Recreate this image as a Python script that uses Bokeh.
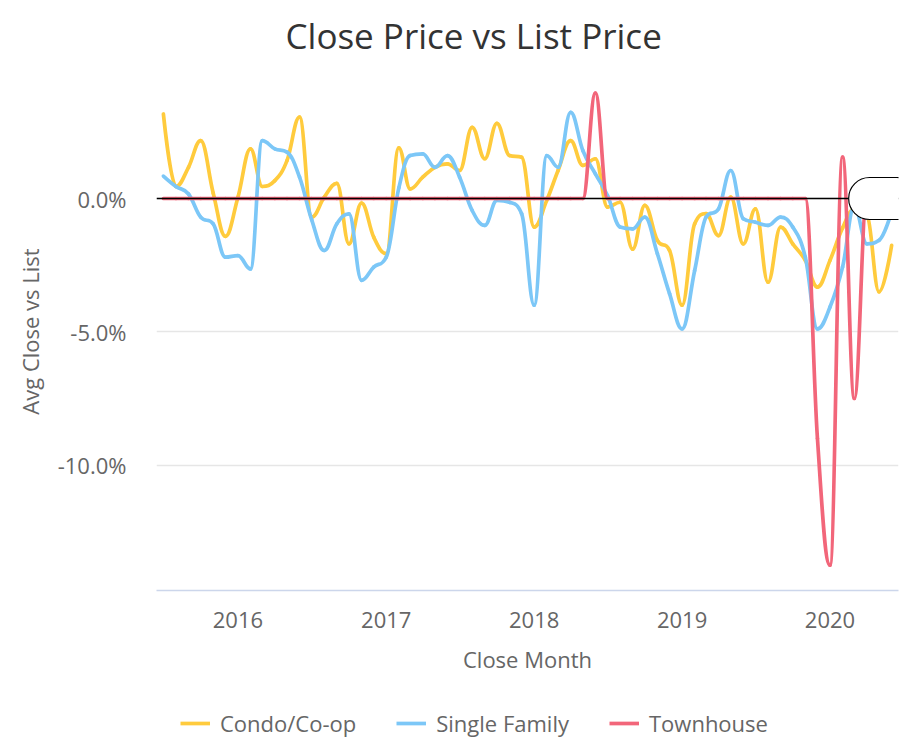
import numpy as np
import pandas as pd
from bokeh.plotting import figure
from bokeh.layouts import column
from bokeh.models import (Range1d, FixedTicker, PrintfTickFormatter, DatetimeTickFormatter,
                          Span, Label, Legend, LegendItem, ColumnDataSource)
from bokeh.embed import file_html
from bokeh.resources import INLINE

# ---------------- data ----------------
months = pd.date_range("2015-07-01", "2020-06-01", freq="MS")

condo = [3.17, 0.45, 1.17, 2.17, 0.2, -1.42, 0.05, 1.86, 0.45, 0.67,
         1.42, 3.05, -0.7, 0.05, 0.57, -1.7, -0.17, -1.45, -2.07, 1.9,
         0.36, 0.8, 1.17, 1.3, 1.05, 2.67, 1.49, 2.82, 1.61, 1.55,
         -1.07, -0.07, 1.05, 2.17, 1.24, 1.49, -0.32, -0.14, -1.9, -0.26,
         -1.57, -1.95, -4.0, -0.95, -0.57, -1.39, 0.05, -1.7, -0.39, -3.14,
         -1.07, -1.7, -2.32, -3.32, -2.32, -1.1, -0.4, -0.6, -3.5, -1.76]

single_family = [0.84, 0.45, 0.17, -0.7, -0.95, -2.2, -2.14, -2.64, 2.17, 1.86,
                 1.74, 0.8, -0.8, -1.95, -0.95, -0.58, -3.07, -2.57, -2.2, 0.4,
                 1.61, 1.67, 1.17, 1.61, 0.8, -0.45, -1.01, -0.07, -0.14, -0.57,
                 -4.0, 1.61, 1.17, 3.23, 1.8, 0.92, 0.11, -1.07, -1.14, -0.7,
                 -2.07, -3.57, -4.89, -2.7, -0.7, -0.39, 1.05, -0.76, -0.89, -1.01,
                 -0.7, -1.07, -2.2, -4.89, -4.07, -2.57, -0.3, -1.7, -1.57, -0.5]

townhouse = [0.0] * 35 + [3.95] + [0.0] * 17 + [-9.0, -13.75, 1.55, -7.5, 0.0, 0.0, 0.0]

series_names = ["Condo/Co-op", "Single Family", "Townhouse"]
series_values = [condo, single_family, townhouse]
series_colors = ["#FFCB3D", "#7CC7F7", "#F2667A"]

y_ticks = [0, -5, -10]
x_tick_years = [2016, 2017, 2018, 2019, 2020]

FONT = "Open Sans"


def spline_segments(xs, ys, smoothing=1.5):
    """Cubic Bezier control points (Highcharts-style spline) from data points."""
    xs = np.asarray(xs, float)
    ys = np.asarray(ys, float)
    n = len(xs)
    lcx, lcy, rcx, rcy = xs.copy(), ys.copy(), xs.copy(), ys.copy()
    denom = smoothing + 1
    for i in range(1, n - 1):
        px, py = xs[i], ys[i]
        lx, ly = xs[i - 1], ys[i - 1]
        nx, ny = xs[i + 1], ys[i + 1]
        lX = (smoothing * px + lx) / denom
        lY = (smoothing * py + ly) / denom
        rX = (smoothing * px + nx) / denom
        rY = (smoothing * py + ny) / denom
        if rX != lX:
            corr = ((rY - lY) * (rX - px)) / (rX - lX) + py - rY
            lY += corr
            rY += corr
        if lY > ly and lY > py:
            lY = max(ly, py)
            rY = 2 * py - lY
        elif lY < ly and lY < py:
            lY = min(ly, py)
            rY = 2 * py - lY
        if rY > ny and rY > py:
            rY = max(ny, py)
            lY = 2 * py - rY
        elif rY < ny and rY < py:
            rY = min(ny, py)
            lY = 2 * py - rY
        lcx[i], lcy[i], rcx[i], rcy[i] = lX, lY, rX, rY
    return dict(x0=xs[:-1], y0=ys[:-1], x1=xs[1:], y1=ys[1:],
                cx0=rcx[:-1], cy0=rcy[:-1], cx1=lcx[1:], cy1=lcy[1:])


def ms(ts):
    return pd.Timestamp(ts).value / 1e6


x_ms = months.values.astype("datetime64[ms]").astype(np.int64).astype(float)

W, H1, H2 = 921, 700, 42
p = figure(width=W, height=H1, x_axis_type="datetime",
           output_backend="svg", toolbar_location=None,
           x_range=Range1d(ms("2015-06-14"), ms("2020-06-18")),
           y_range=Range1d(-14.7, 4.725),
           min_border_left=156, min_border_right=W - 898,
           min_border_top=72, min_border_bottom=H1 - 590)

p.outline_line_color = None
p.background_fill_color = "white"

# title
p.title.text = "Close Price vs List Price"
p.title.text_font = FONT
p.title.text_font_size = "35px"
p.title.text_font_style = "normal"
p.title.text_color = "#333333"
p.title.align = "left"
p.title.offset = 129
p.title.vertical_align = "top"
p.title.standoff = 23

# axes
xa = p.xaxis[0]
xa.ticker = FixedTicker(ticks=[ms(f"{y}-01-01") for y in x_tick_years])
xa.formatter = DatetimeTickFormatter(years="%Y", months="%Y", days="%Y")
xa.axis_line_color = "#ccd6eb"
xa.axis_line_width = 1.5
xa.major_tick_line_color = None
xa.minor_tick_line_color = None
xa.major_label_text_font = FONT
xa.major_label_text_font_size = "22px"
xa.major_label_text_color = "#666666"
xa.major_label_standoff = 15
xa.axis_label = "Close Month"
xa.axis_label_text_font = FONT
xa.axis_label_text_font_size = "22px"
xa.axis_label_text_font_style = "normal"
xa.axis_label_text_color = "#666666"
xa.axis_label_standoff = 13

ya = p.yaxis[0]
ya.ticker = FixedTicker(ticks=y_ticks)
ya.formatter = PrintfTickFormatter(format="%.1f%%")
ya.axis_line_color = None
ya.major_tick_line_color = None
ya.minor_tick_line_color = None
ya.major_label_text_font = FONT
ya.major_label_text_font_size = "22px"
ya.major_label_text_color = "#666666"
ya.major_label_standoff = 24
ya.axis_label = "Avg Close vs List"
ya.axis_label_text_font = FONT
ya.axis_label_text_font_size = "22px"
ya.axis_label_text_font_style = "normal"
ya.axis_label_text_color = "#666666"
ya.axis_label_standoff = 10

p.xgrid.grid_line_color = None
p.ygrid.grid_line_color = "#e6e6e6"
p.ygrid.grid_line_width = 1.5

# series
for name, vals, col in zip(series_names, series_values, series_colors):
    src = ColumnDataSource(spline_segments(x_ms, vals))
    p.bezier(x0="x0", y0="y0", x1="x1", y1="y1", cx0="cx0", cy0="cy0",
             cx1="cx1", cy1="cy1", source=src, line_color=col,
             line_width=3.7, line_cap="round", line_join="round")

# zero plot line and its bubble
p.add_layout(Span(location=0, dimension="width", line_color="black", line_width=1.5))
p.add_layout(Label(x=ms("2020-02-16"), y=0, text=" ", anchor="center_left",
                   text_font_size="12px", padding=(33, 14),
                   border_radius=21, background_fill_color="white",
                   border_line_color="black", border_line_width=1.2))

# legend strip (separate figure below the chart); its series lie outside
# its view range, so only the legend itself is seen
lg = figure(width=W, height=H2, output_backend="svg", toolbar_location=None,
            x_range=Range1d(0, 1), y_range=Range1d(0, 1),
            min_border=0, x_axis_location=None, y_axis_location=None)
lg.outline_line_color = None
lg.xgrid.grid_line_color = None
lg.ygrid.grid_line_color = None
items = []
for name, vals, col in zip(series_names, series_values, series_colors):
    r = lg.line(x=x_ms, y=vals, line_color=col, line_width=3.7)
    items.append(LegendItem(label=name, renderers=[r]))
legend = Legend(items=items, orientation="horizontal", location=(24, 4),
                glyph_width=30, glyph_height=20, label_standoff=10, spacing=40,
                padding=0, margin=0, border_line_color=None,
                background_fill_alpha=0,
                label_text_font=FONT, label_text_font_size="22px",
                label_text_color="#666666")
lg.add_layout(legend, "center")

layout = column(p, lg, spacing=0)
open("out.html", "w").write(file_html(layout, INLINE))
